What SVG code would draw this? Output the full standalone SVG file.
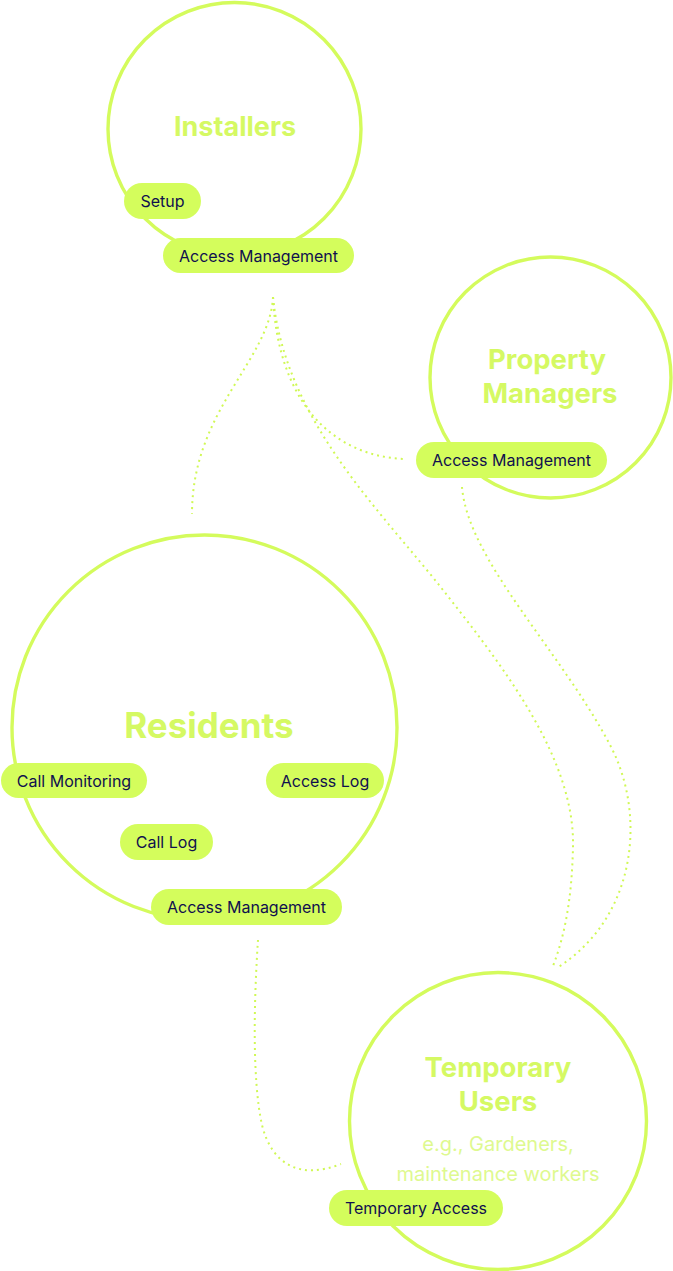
<svg xmlns="http://www.w3.org/2000/svg" width="673" height="1271" viewBox="0 0 673 1271">
<style>
.ring{fill:none;stroke:#d4fb5c;stroke-width:3.4}
.pill{fill:#d4fd5c}
.pt{font-family:Inter,"Liberation Sans",sans-serif;font-size:16px;fill:#10104e;text-anchor:middle}
.title{font-family:Inter,"Liberation Sans",sans-serif;font-weight:700;fill:#d5f963;text-anchor:middle}
.sub{font-family:Inter,"Liberation Sans",sans-serif;font-size:20px;fill:#def98f;text-anchor:middle}
.link{fill:none;stroke:#d0f855;stroke-width:2;stroke-dasharray:2 4}
</style>
<rect width="673" height="1271" fill="#ffffff"/>
<g id="connectors">
<path class="link" d="M273,297 C270,360 192,410 192,514"/>
<path class="link" d="M273,297 C278,400 330,455 403,459"/>
<path class="link" d="M273,297 C285,420 380,510 443,590 C506,670 575,760 573,847 C572,890 567,930 553,966"/>
<path class="link" d="M462,487 C468,560 560,650 610,745 C645,810 640,915 557,968"/>
<path class="link" d="M258,940 C254,1000 252,1080 262,1125 C272,1165 300,1180 341,1164"/>
</g>
<g id="installers">
<circle class="ring" cx="234.5" cy="129" r="126.5"/>
<text class="title" x="235" y="136" font-size="27">Installers</text>
<rect class="pill" x="124" y="183" width="77" height="36" rx="18"/>
<text class="pt" x="162.5" y="206.5">Setup</text>
<rect class="pill" x="163" y="238" width="191" height="35" rx="17.5"/>
<text class="pt" x="258.5" y="261.5">Access Management</text>
</g>
<g id="property-managers">
<circle class="ring" cx="550.5" cy="377.5" r="120.5"/>
<text class="title" x="547" y="369" font-size="27.5">Property</text>
<text class="title" x="550" y="403" font-size="27.5">Managers</text>
<rect class="pill" x="416" y="442" width="191" height="36" rx="18"/>
<text class="pt" x="511.5" y="465.5">Access Management</text>
</g>
<g id="residents">
<circle class="ring" cx="204.5" cy="727.5" r="192.5"/>
<text class="title" x="209" y="738" font-size="35">Residents</text>
<rect class="pill" x="1" y="763" width="146" height="35" rx="17.5"/>
<text class="pt" x="74" y="786.5">Call Monitoring</text>
<rect class="pill" x="266" y="763" width="118" height="35" rx="17.5"/>
<text class="pt" x="325" y="786.5">Access Log</text>
<rect class="pill" x="120" y="824" width="93" height="36" rx="18"/>
<text class="pt" x="166.5" y="847.5">Call Log</text>
<rect class="pill" x="151" y="889" width="191" height="36" rx="18"/>
<text class="pt" x="246.5" y="912.5">Access Management</text>
</g>
<g id="temporary-users">
<circle class="ring" cx="498" cy="1121" r="148.5"/>
<text class="title" x="498" y="1077" font-size="27.5">Temporary</text>
<text class="title" x="498" y="1111" font-size="27.5">Users</text>
<text class="sub" x="498" y="1151">e.g., Gardeners,</text>
<text class="sub" x="498" y="1181">maintenance workers</text>
<rect class="pill" x="329" y="1190" width="174" height="36" rx="18"/>
<text class="pt" x="416" y="1213.5">Temporary Access</text>
</g>
</svg>
